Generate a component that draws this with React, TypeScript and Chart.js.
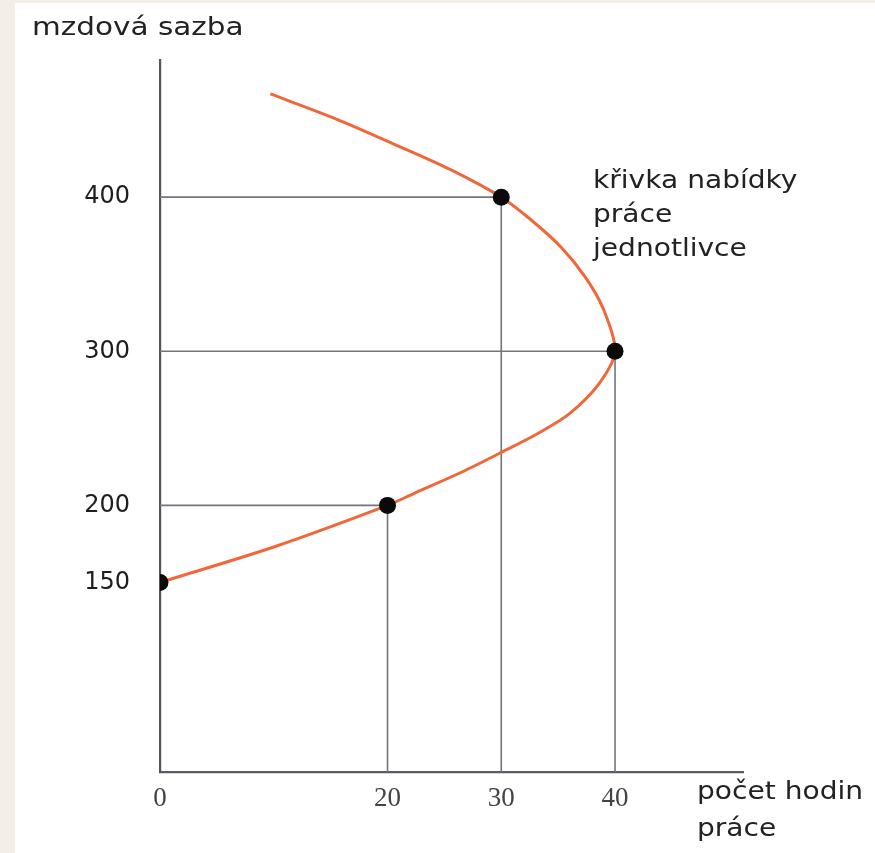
import React, { useEffect, useRef } from "react";
import { Chart, registerables } from "chart.js";

Chart.register(...registerables);

// Marked points on the labour supply curve
const markedHours = [0, 20, 30, 40];
const markedWages = [150, 200, 400, 300];

// Backward-bending labour supply curve (top to bottom)
const curveHours = [9.7, 15.4, 20.7, 25.5, 30, 32.5, 35.2, 37.4, 39.0, 40, 38.6, 36.0, 33.3, 29.9, 26.5, 22.4, 20, 10.0, 0];
const curveWages = [467, 451, 434, 418, 400, 386, 368, 348, 327, 300, 279, 259.5, 247, 234, 221.5, 208, 200, 173, 150];

// Axis ticks
const xTicks = [0, 20, 30, 40];
const yTicks = [150, 200, 300, 400];

const xMin = 0;
const xMax = 51.25;
const yMin = 27;
const yMax = 489;

const yAxisTitle = "mzdová sazba";
const xAxisTitle = ["počet hodin", "práce"];
const curveLabel = ["křivka nabídky", "práce", "jednotlivce"];

const TEXT_FONT = '"DejaVu Sans", sans-serif';

const textPlugin = {
  id: "annotTexts",
  afterDraw(chart: any) {
    const ctx = chart.ctx as CanvasRenderingContext2D;
    const drawStretched = (text: string, x: number, y: number, size: number, sx: number) => {
      ctx.save();
      ctx.translate(x, y);
      ctx.scale(sx, 1);
      ctx.font = `${size}px ${TEXT_FONT}`;
      ctx.fillStyle = "#222222";
      ctx.textAlign = "left";
      ctx.textBaseline = "middle";
      ctx.fillText(text, 0, 0);
      ctx.restore();
    };
    drawStretched(yAxisTitle, 17, 25, 25, 1.18);
    const cy = [179, 213, 247];
    curveLabel.forEach((t, i) => drawStretched(t, 578, cy[i], 24, 1.17));
    const xy = [790, 827];
    xAxisTitle.forEach((t, i) => drawStretched(t, 682, xy[i], 24, 1.17));
  },
};

export default function App() {
  const ref = useRef<HTMLCanvasElement | null>(null);

  useEffect(() => {
    if (!ref.current) return;
    const dropLines: any[] = [];
    markedHours.forEach((h, i) => {
      const w = markedWages[i];
      if (h > 0) {
        dropLines.push({
          data: [{ x: 0, y: w }, { x: h, y: w }],
          borderColor: "#77737d",
          borderWidth: 1.6,
          pointRadius: 0,
          tension: 0,
        });
        dropLines.push({
          data: [{ x: h, y: w }, { x: h, y: yMin }],
          borderColor: "#77737d",
          borderWidth: 1.6,
          pointRadius: 0,
          tension: 0,
        });
      }
    });

    const chart = new Chart(ref.current, {
      type: "line",
      data: {
        datasets: [
          {
            data: markedHours.map((h, i) => ({ x: h, y: markedWages[i] })),
            showLine: false,
            pointRadius: 8.5,
            pointBackgroundColor: "#0a0a0a",
            pointBorderColor: "#0a0a0a",
            pointBorderWidth: 0,
          },
          {
            data: curveHours.map((h, i) => ({ x: h, y: curveWages[i] })),
            borderColor: "#f0673a",
            borderWidth: 3,
            pointRadius: 0,
            tension: 0.3,
            fill: false,
          },
          ...dropLines,
        ],
      },
      options: {
        animation: false,
        responsive: false,
        maintainAspectRatio: false,
        layout: { padding: { top: 57, right: 132, left: 0, bottom: 0 } },
        plugins: { legend: { display: false }, tooltip: { enabled: false } },
        events: [],
        scales: {
          x: {
            type: "linear",
            min: xMin,
            max: xMax,
            afterBuildTicks: (scale: any) => {
              scale.ticks = xTicks.map((v) => ({ value: v }));
            },
            afterFit: (scale: any) => {
              scale.height = 81;
            },
            grid: { display: true, color: "transparent", drawTicks: false },
            border: { display: true, color: "#5c5a62", width: 2.2 },
            ticks: {
              padding: 11,
              autoSkip: false,
              maxRotation: 0,
              color: "#444444",
              font: { family: '"Liberation Serif", serif', size: 27 },
              callback: (v: any) => String(v),
            },
          },
          y: {
            type: "linear",
            min: yMin,
            max: yMax,
            afterBuildTicks: (scale: any) => {
              scale.ticks = yTicks.map((v) => ({ value: v }));
            },
            afterFit: (scale: any) => {
              scale.width = 145;
            },
            grid: { display: true, color: "transparent", drawTicks: false },
            border: { display: true, color: "#55535a", width: 2.2 },
            ticks: {
              padding: 30,
              autoSkip: false,
              color: "#1e1e1e",
              font: { family: TEXT_FONT, size: 24 },
              callback: (v: any) => String(v),
            },
          },
        },
      },
      plugins: [textPlugin],
    });
    return () => chart.destroy();
  }, []);

  return (
    <div
      style={{
        position: "fixed",
        left: 0,
        top: 0,
        width: 875,
        height: 853,
        background: "#f3efe8",
      }}
    >
      <div
        style={{
          position: "absolute",
          left: 15,
          top: 3,
          width: 860,
          height: 850,
          background: "#ffffff",
        }}
      >
        <canvas ref={ref} width={860} height={850} style={{ width: 860, height: 850, display: "block" }} />
      </div>
    </div>
  );
}
